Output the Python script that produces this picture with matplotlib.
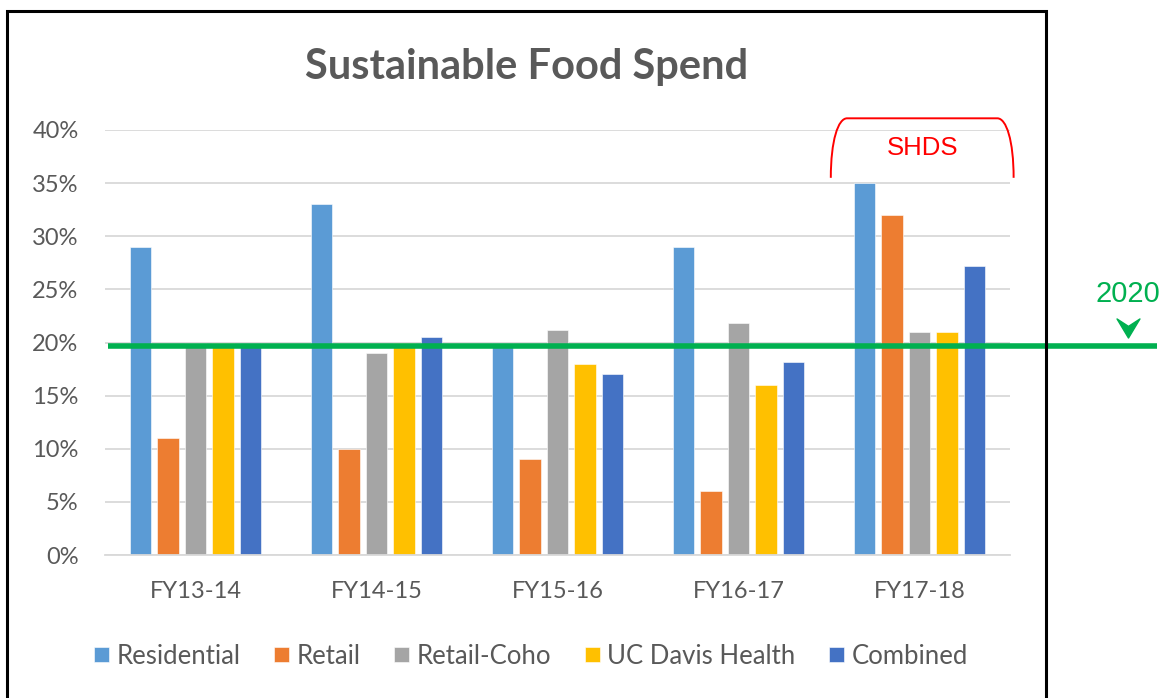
import numpy as np
import matplotlib
matplotlib.use("Agg")
import matplotlib.pyplot as plt
from matplotlib.path import Path
from matplotlib.patches import PathPatch, Rectangle
from matplotlib.transforms import blended_transform_factory
from matplotlib.ticker import PercentFormatter

plt.rcParams["font.family"] = ["Lato", "DejaVu Sans"]

# data
years = ["FY13-14", "FY14-15", "FY15-16", "FY16-17", "FY17-18"]
series = ["Residential", "Retail", "Retail-Coho", "UC Davis Health", "Combined"]
residential = [0.29, 0.33, 0.20, 0.29, 0.35]
retail = [0.11, 0.10, 0.09, 0.06, 0.32]
retail_coho = [0.20, 0.19, 0.212, 0.218, 0.21]
ucd_health = [0.20, 0.20, 0.18, 0.16, 0.21]
combined = [0.20, 0.205, 0.17, 0.182, 0.272]
target = 0.197
target_label = "2020"
colors = ["#5B9BD5", "#ED7D31", "#A5A5A5", "#FFC000", "#4472C4"]

W, H = 1165, 698
fig = plt.figure(figsize=(W / 100, H / 100), dpi=100)
ax = fig.add_axes([105 / W, (H - 555) / H, 905 / W, 425 / H])

x = np.arange(len(years))
pitch = 0.152
width = 0.117
for i, (name, vals) in enumerate(zip(series, [residential, retail, retail_coho, ucd_health, combined])):
    ax.bar(x + (i - 2) * pitch, vals, width, color=colors[i], label=name,
           edgecolor="white", linewidth=0.4, zorder=2)

ax.set_xlim(-0.5, len(years) - 0.5)
ax.set_ylim(0, 0.40)
ax.set_yticks(np.arange(0, 0.401, 0.05))
ax.yaxis.set_major_formatter(PercentFormatter(1.0, decimals=0))
ax.grid(axis="y", color="#D9D9D9", linewidth=1.3, zorder=0)
ax.set_axisbelow(True)
for s in ["top", "right", "left"]:
    ax.spines[s].set_visible(False)
ax.spines["bottom"].set_color("#D9D9D9")
ax.spines["bottom"].set_linewidth(1.3)
ax.tick_params(length=0, labelsize=17, labelcolor="#595959")
ax.tick_params(axis="y", pad=19)
ax.tick_params(axis="x", pad=19)
ax.set_xticks(x)
ax.set_xticklabels(years)

fig.text(527 / W, 1 - 67 / H, "Sustainable Food Spend", ha="center", va="center",
         fontsize=30, fontweight="bold", color="#595959")

# 2020 target line, running past the plot area
bt = blended_transform_factory(ax.transAxes, ax.transData)
ax.plot([3 / 905, 1052 / 905], [target, target], color="#00B050", linewidth=4,
        transform=bt, clip_on=False, zorder=5, solid_capstyle="butt")
arrow = Path([(-1.2, 1), (0, -1), (1.2, 1), (0, 0.22), (-1.2, 1)],
             [Path.MOVETO, Path.LINETO, Path.LINETO, Path.LINETO, Path.CLOSEPOLY])
ax.plot([1023 / 905], [target + 0.0165], marker=arrow, markersize=16.5, color="#00B050",
        transform=bt, clip_on=False, linestyle="none", zorder=5)
ax.text(1023 / 905, target + 0.035, target_label, transform=bt, ha="center", va="bottom",
        fontsize=21, color="#00B050", family="Liberation Sans")

# SHDS bracket over the last group
c = len(years) - 1
x0, x1 = c - 0.49, c + 0.52
y0, y1 = 0.355, 0.411
verts = [(x0, y0), (x0, 0.39), (x0 + 0.04, y1), (x0 + 0.09, y1),
         (x1 - 0.09, y1), (x1 - 0.04, y1), (x1, 0.39), (x1, y0)]
codes = [Path.MOVETO, Path.CURVE4, Path.CURVE4, Path.CURVE4,
         Path.LINETO, Path.CURVE4, Path.CURVE4, Path.CURVE4]
ax.add_patch(PathPatch(Path(verts, codes), fill=False, edgecolor="#FF0000",
                       linewidth=1.4, clip_on=False, zorder=6))
ax.text((x0 + x1) / 2, 0.383, "SHDS", ha="center", va="center", fontsize=18.5,
        color="#FF0000", family="Liberation Sans")

leg = fig.legend(loc="center", bbox_to_anchor=(531 / W, 1 - 656 / H), ncol=5,
                 frameon=False, fontsize=18.5, handlelength=0.58, handleheight=0.5,
                 handletextpad=0.3, columnspacing=1.3)
for t in leg.get_texts():
    t.set_color("#595959")

# black frame around the chart
fig.patches.append(Rectangle((7 / W, -0.02), (1046 - 7) / W, 1.02 - 11 / H,
                             transform=fig.transFigure, fill=False,
                             edgecolor="black", linewidth=2.2))

fig.savefig("out.png", dpi=100, facecolor="white")
